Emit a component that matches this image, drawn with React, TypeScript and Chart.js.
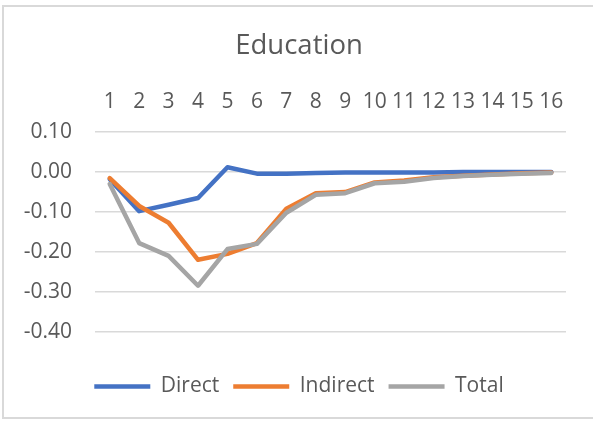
import React, { useEffect, useRef } from "react";
import { Chart, registerables } from "chart.js";

Chart.register(...registerables);

const categories = ["1", "2", "3", "4", "5", "6", "7", "8", "9", "10", "11", "12", "13", "14", "15", "16"];
const directValues = [-0.018, -0.098, -0.082, -0.065, 0.012, -0.004, -0.004, -0.002, -0.001, -0.001, -0.001, -0.001, 0, 0, 0, 0];
const indirectValues = [-0.015, -0.085, -0.127, -0.22, -0.205, -0.178, -0.092, -0.053, -0.05, -0.026, -0.021, -0.013, -0.009, -0.006, -0.003, -0.001];
const totalValues = [-0.03, -0.178, -0.21, -0.285, -0.193, -0.18, -0.102, -0.057, -0.053, -0.028, -0.024, -0.015, -0.01, -0.007, -0.004, -0.002];
const seriesNames = ["Direct", "Indirect", "Total"];
const chartTitle = "Education";

const FONT = "'Open Sans', 'Noto Sans', sans-serif";
const TEXT = "#595959";

// lets the y tick labels extend into the left padding without being clipped
const unclipYLabels = {
  id: "unclipYLabels",
  afterLayout(chart: any) {
    if (chart.scales.y) chart.scales.y.left = 0;
  },
};

export default function App() {
  const ref = useRef<HTMLCanvasElement | null>(null);

  useEffect(() => {
    if (!ref.current) return;
    const mk = (label: string, data: number[], color: string, order: number) => ({
      label,
      data,
      borderColor: color,
      backgroundColor: color,
      borderWidth: 4.5,
      borderCapStyle: "round" as const,
      borderJoinStyle: "round" as const,
      pointRadius: 0,
      pointHoverRadius: 0,
      tension: 0,
      fill: false,
      order,
    });
    const chart = new Chart(ref.current, {
      type: "line",
      data: {
        labels: categories,
        datasets: [
          mk(seriesNames[0], directValues, "#4472C4", 3),
          mk(seriesNames[1], indirectValues, "#ED7D31", 2),
          mk(seriesNames[2], totalValues, "#A5A5A5", 1),
        ],
      },
      plugins: [unclipYLabels],
      options: {
        animation: false,
        responsive: false,
        devicePixelRatio: 1,
        layout: { padding: { left: 32, right: 27, top: 0, bottom: 15 } },
        plugins: {
          tooltip: { enabled: false },
          title: {
            display: true,
            text: chartTitle,
            color: TEXT,
            font: { family: FONT, size: 27.5, weight: "normal" },
            padding: { top: 30, bottom: 8 },
          },
          subtitle: {
            display: true,
            position: "bottom",
            text: "",
            weight: 500,
            font: { family: FONT, size: 2 },
            padding: { top: 28, bottom: 0 },
          },
          legend: {
            position: "bottom",
            labels: {
              usePointStyle: true,
              pointStyle: "line",
              pointStyleWidth: 56,
              boxHeight: 21,
              padding: 14,
              color: TEXT,
              font: { family: FONT, size: 21 },
              sort: (a: any, b: any) => a.datasetIndex - b.datasetIndex,
            },
          },
        },
        scales: {
          x: {
            position: "top",
            offset: true,
            grid: { display: false, drawTicks: false },
            border: { display: false },
            ticks: {
              color: TEXT,
              font: { family: FONT, size: 21 },
              padding: 18,
              maxRotation: 0,
              autoSkip: false,
            },
          },
          y: {
            min: -0.4,
            max: 0.1,
            afterFit: (scale: any) => {
              scale.width = 63;
            },
            grid: { color: "#d9d9d9", lineWidth: 1.5, drawTicks: false },
            border: { display: false },
            ticks: {
              stepSize: 0.1,
              color: TEXT,
              font: { family: FONT, size: 21 },
              padding: 23,
              callback: (v: any) => {
                const r = Math.round(Number(v) * 100) / 100;
                const s = r.toFixed(2);
                return s === "-0.00" ? "0.00" : s;
              },
            },
          },
        },
      },
    });
    return () => chart.destroy();
  }, []);

  return (
    <div style={{ position: "absolute", left: 0, top: 0, width: 593, height: 422, overflow: "hidden", background: "#fff" }}>
      <div
        style={{
          position: "absolute",
          left: 2,
          top: 5,
          width: 640,
          height: 414,
          border: "2px solid #d9d9d9",
          boxSizing: "border-box",
        }}
      />
      <canvas ref={ref} width={593} height={422} style={{ position: "absolute", left: 0, top: 0, display: "block" }} />
    </div>
  );
}
